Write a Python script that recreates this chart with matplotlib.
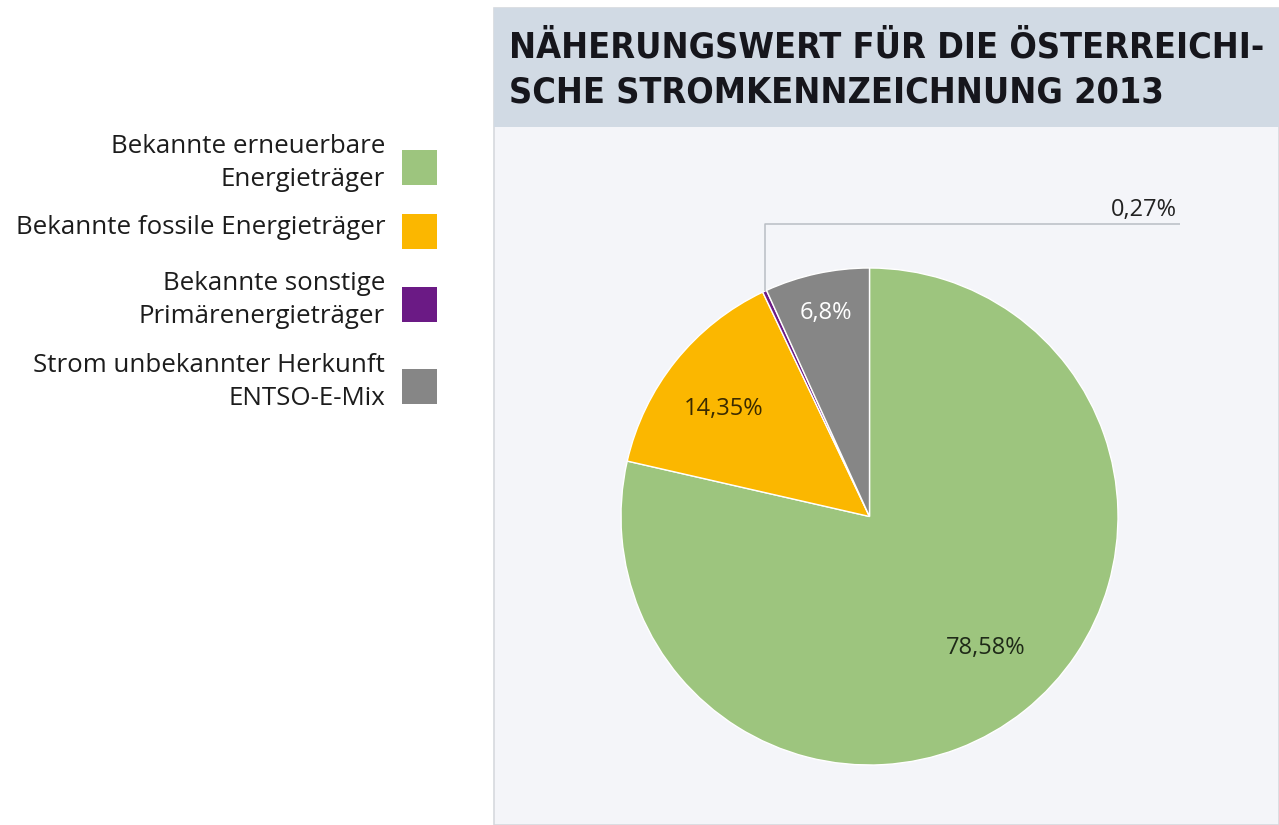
import matplotlib
matplotlib.use("Agg")
import matplotlib.pyplot as plt
import numpy as np
from matplotlib.patches import Rectangle

# Data: Austrian electricity labelling approximation 2013 (shares in %)
categories = [
    "Bekannte erneuerbare\nEnergieträger",
    "Bekannte fossile Energieträger",
    "Bekannte sonstige\nPrimärenergieträger",
    "Strom unbekannter Herkunft\nENTSO-E-Mix",
]
shares = [78.58, 14.35, 0.27, 6.8]
colors = ["#9dc57e", "#fbb700", "#6b1a85", "#868686"]
title = "NÄHERUNGSWERT FÜR DIE ÖSTERREICHI-\nSCHE STROMKENNZEICHNUNG 2013"

W, H = 1279, 825
fig = plt.figure(figsize=(W / 100, H / 100), dpi=100)
fig.patch.set_facecolor("white")
ax = fig.add_axes([0, 0, 1, 1])


def Y(py):
    """Convert a top-down pixel row to data y."""
    return H - py


text_font = ["Open Sans", "DejaVu Sans"]
title_font = ["DejaVu Sans"]

# Pie
cx, cy, r = 869.5, Y(516.5), 248.5
wedges, _ = ax.pie(shares, colors=colors, startangle=90, counterclock=False,
                   center=(cx, cy), radius=r, frame=True,
                   wedgeprops=dict(edgecolor="white", linewidth=1.0,
                                   zorder=3))
ax.set_xlim(0, W)
ax.set_ylim(0, H)
ax.set_aspect("equal")
ax.axis("off")

# Panel and title band
ax.add_patch(Rectangle((494, Y(825)), W - 494, 825 - 8, facecolor="#f4f5f9",
                       edgecolor="#d6d9de", lw=1.2, zorder=0))
ax.add_patch(Rectangle((494, Y(127)), W - 494, 127 - 8, facecolor="#d1dae4",
                       edgecolor="none", zorder=1))
ax.text(509, Y(70), title, ha="left", va="center", fontsize=25.8,
        fontweight="bold", family=title_font, fontstretch="condensed",
        color="#16161c", linespacing=1.42, zorder=2)


def fmt(v):
    return f"{v:g}".replace(".", ",") + "%"


# Label anchor points (pixels from top-left) for the in-slice values
label_xy = [(986, 648), (724, 409), None, (826, 313)]
label_color = ["#1f2a18", "#3a2a00", None, "white"]
for xy, v, c in zip(label_xy, shares, label_color):
    if xy is None:
        continue
    ax.text(xy[0], Y(xy[1]), fmt(v), ha="center", va="center", fontsize=17,
            family=text_font, color=c, zorder=5)

# Leader line for the small slice
small = wedges[2]
ang = np.deg2rad((small.theta1 + small.theta2) / 2)
x0, y0 = cx + r * np.cos(ang), cy + r * np.sin(ang)
ax.plot([x0, x0, 1180], [y0, Y(224), Y(224)], color="#b9bdc4", lw=1.1,
        zorder=4, solid_capstyle="butt")
ax.text(1177, Y(210), fmt(shares[2]), ha="right", va="center", fontsize=17,
        family=text_font, color="#222222", zorder=5)

# Legend
legend_rows = [167, 231, 304, 386]
for lab, col, row in zip(categories, colors, legend_rows):
    ax.add_patch(Rectangle((402, Y(row + 17.5)), 35, 35, facecolor=col,
                           edgecolor="none", zorder=3))
    ax.text(385, Y(row - 4), lab, ha="right", va="center", fontsize=18.6,
            family=text_font, color="#1c1c1c", linespacing=1.42, zorder=3)

fig.savefig("out.png", dpi=100, facecolor=fig.get_facecolor())
